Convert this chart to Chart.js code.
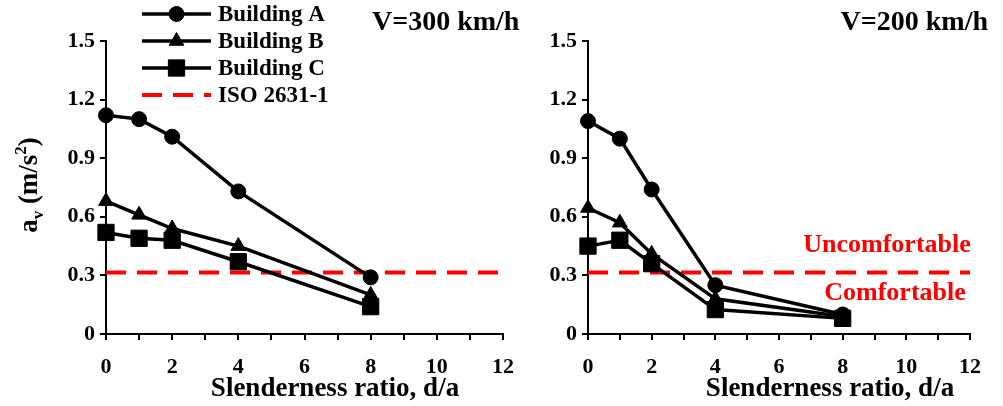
<!DOCTYPE html>
<html>
<head>
<meta charset="utf-8">
<script src="https://cdn.jsdelivr.net/npm/chart.js@4.4.0/dist/chart.umd.min.js"></script>
<style>
body { margin: 0; background: #fff; width: 1003px; height: 406px; position: relative; overflow: hidden; }
.box { position: absolute; top: 0; height: 406px; }
</style>
</head>
<body>
<div class="box" style="left:0;width:530px"><canvas id="left-chart"></canvas></div>
<div class="box" style="left:500px;width:503px"><canvas id="right-chart"></canvas></div>
<script>
// slenderness ratio d/a
var ratios = [0, 1, 2, 4, 8];

// V = 300 km/h
var a300 = [1.12, 1.10, 1.01, 0.73, 0.29];
var b300 = [0.68, 0.61, 0.54, 0.45, 0.20];
var c300 = [0.52, 0.49, 0.48, 0.37, 0.14];

// V = 200 km/h
var a200 = [1.09, 1.00, 0.74, 0.25, 0.10];
var b200 = [0.645, 0.57, 0.41, 0.18, 0.09];
var c200 = [0.45, 0.48, 0.36, 0.125, 0.08];

// ISO 2631-1 comfort limit
var isoLimit = 0.315;
var isoRange = [0, 12];

var xTicks = [0, 1, 2, 3, 4, 5, 6, 7, 8, 9, 10, 11, 12];
var yTicks = [0, 0.3, 0.6, 0.9, 1.2, 1.5];

var serif = '"Liberation Serif", "Times New Roman", serif';

function pts(ys) {
    return ratios.map(function (x, i) { return { x: x, y: ys[i] }; });
}

function buildDatasets(a, b, c) {
    var base = { borderColor: '#000', backgroundColor: '#000', borderWidth: 3.5, pointBorderWidth: 1,
                 pointBorderColor: '#000', pointBackgroundColor: '#000', clip: false, order: 1 };
    return [
        Object.assign({ label: 'Building A', data: pts(a), pointStyle: 'circle', pointRadius: 7.5 }, base),
        Object.assign({ label: 'Building B', data: pts(b), pointStyle: 'triangle', pointRadius: 8.5 }, base),
        Object.assign({ label: 'Building C', data: pts(c), pointStyle: 'rect', pointRadius: 11.5 }, base),
        {
            label: 'ISO 2631-1',
            data: isoRange.map(function (x) { return { x: x, y: isoLimit }; }),
            borderColor: '#ff0000', borderWidth: 4, borderDash: [20, 11],
            pointRadius: 0, order: 5, clip: false
        }
    ];
}

function text(ctx, str, x, y, font, color, align) {
    ctx.save();
    ctx.font = font;
    ctx.fillStyle = color || '#000';
    ctx.textAlign = align || 'left';
    ctx.textBaseline = 'middle';
    ctx.fillText(str, x, y);
    ctx.restore();
}

function drawYTitle(ctx, cx, cy) {
    var big = 'bold 27px ' + serif, small = 'bold 17px ' + serif;
    var parts = [['a', big, 0], ['v', small, 6], [' (m/s', big, 0], ['2', small, -11], [')', big, 0]];
    ctx.save();
    ctx.translate(cx, cy);
    ctx.rotate(-Math.PI / 2);
    ctx.fillStyle = '#000';
    ctx.textBaseline = 'alphabetic';
    var w = 0;
    parts.forEach(function (p) { ctx.font = p[1]; w += ctx.measureText(p[0]).width; });
    var x = -w / 2;
    parts.forEach(function (p) {
        ctx.font = p[1];
        ctx.fillText(p[0], x, 9 + p[2]);
        x += ctx.measureText(p[0]).width;
    });
    ctx.restore();
}

function drawLegend(chart) {
    var ctx = chart.ctx;
    chart.data.datasets.forEach(function (ds, i) {
        var y = 14 + i * 27;
        ctx.save();
        ctx.strokeStyle = ds.borderColor;
        ctx.lineWidth = ds.borderWidth;
        if (ds.borderDash) ctx.setLineDash(ds.borderDash);
        ctx.beginPath();
        ctx.moveTo(142, y);
        ctx.lineTo(211, y);
        ctx.stroke();
        ctx.setLineDash([]);
        if (ds.pointRadius) {
            ctx.fillStyle = '#000';
            ctx.strokeStyle = '#000';
            ctx.lineWidth = 1;
            Chart.helpers.drawPoint(ctx, { pointStyle: ds.pointStyle, radius: ds.pointRadius, borderWidth: 1, rotation: 0 }, 176.5, y);
        }
        ctx.restore();
        text(ctx, ds.label, 218, y + 1, 'bold 23px ' + serif);
    });
}

function makeChart(id, datasets, axisWidth, padRight, extras) {
    return new Chart(document.getElementById(id), {
        type: 'line',
        data: { datasets: datasets },
        options: {
            responsive: true,
            maintainAspectRatio: false,
            animation: false,
            events: [],
            layout: { padding: { top: 41, right: padRight, bottom: 0, left: 0 } },
            plugins: { legend: { display: false }, tooltip: { enabled: false } },
            scales: {
                x: {
                    type: 'linear', min: 0, max: 12,
                    afterBuildTicks: function (s) { s.ticks = xTicks.map(function (v) { return { value: v }; }); },
                    afterFit: function (s) { s.height = 72; },
                    ticks: {
                        autoSkip: false, maxRotation: 0, padding: 14, color: '#000',
                        font: { family: serif, size: 22, weight: 'bold' },
                        callback: function (v) { return v % 2 === 0 ? String(v) : ''; }
                    },
                    grid: { drawOnChartArea: false, drawTicks: true, tickLength: 6, color: '#000', lineWidth: 2 },
                    border: { color: '#000', width: 2 }
                },
                y: {
                    min: 0, max: 1.5,
                    afterBuildTicks: function (s) { s.ticks = yTicks.map(function (v) { return { value: v }; }); },
                    afterFit: function (s) { s.width = axisWidth; },
                    ticks: {
                        padding: 5, color: '#000',
                        font: { family: serif, size: 22, weight: 'bold' },
                        callback: function (v) { return v === 0 ? '0' : v.toFixed(1); }
                    },
                    grid: { drawOnChartArea: false, drawTicks: true, tickLength: 6, color: '#000', lineWidth: 2 },
                    border: { color: '#000', width: 2 }
                }
            }
        },
        plugins: [{ id: 'extras', afterDraw: extras }]
    });
}

makeChart('left-chart', buildDatasets(a300, b300, c300), 106, 27, function (chart) {
    var ctx = chart.ctx;
    drawLegend(chart);
    text(ctx, 'V=300 km/h', 372, 23, 'bold 28px ' + serif);
    text(ctx, 'Slenderness ratio, d/a', 335, 389, 'bold 27px ' + serif, '#000', 'center');
    drawYTitle(ctx, 28, 185);
});

makeChart('right-chart', buildDatasets(a200, b200, c200), 88, 33, function (chart) {
    var ctx = chart.ctx;
    var yIso = chart.scales.y.getPixelForValue(isoLimit);
    text(ctx, 'V=200 km/h', 488, 23, 'bold 28px ' + serif, '#000', 'right');
    text(ctx, 'Slenderness ratio, d/a', 330, 389, 'bold 27px ' + serif, '#000', 'center');
    text(ctx, 'Uncomfortable', 387, yIso - 27, 'bold 26px ' + serif, '#ff0000', 'center');
    text(ctx, 'Comfortable', 395, yIso + 21, 'bold 26px ' + serif, '#ff0000', 'center');
});
</script>
</body>
</html>
